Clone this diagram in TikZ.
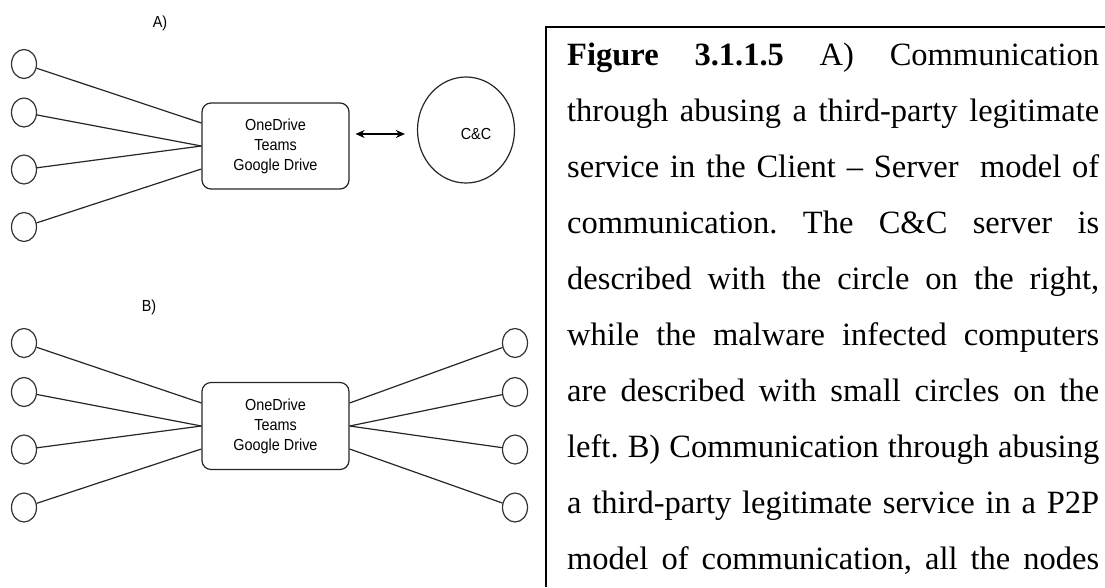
\documentclass[tikz,border=0pt]{standalone}
\usepackage{fontspec}
\setmainfont{Liberation Serif}
\newfontfamily\diagfont{Liberation Sans}[FakeStretch=0.9]
\usetikzlibrary{arrows.meta,shapes.geometric}
\begin{document}
\frenchspacing
\begin{tikzpicture}[x=1pt,y=-1pt,
  pc/.style={draw=black!80, ellipse, minimum width=25pt, minimum height=29pt, inner sep=0pt, line width=1.2pt},
  svc/.style={draw=black!85, rounded corners=9pt, minimum width=147pt, align=center, inner sep=0pt, line width=1.2pt, font=\diagfont\fontsize{16}{20}\selectfont},
  link/.style={draw=black!85, line width=1.2pt},
  biarrow/.style={line width=1.2pt, {Stealth[length=9pt,width=8pt]}-{Stealth[length=9pt,width=8pt]}},
  lbl/.style={font=\diagfont\fontsize{16}{18}\selectfont},
  capline/.style={anchor=base west, inner sep=0pt, font=\fontsize{32.5}{56}\selectfont},
  frame/.style={line width=1.3pt}
]
\useasboundingbox (0,0) rectangle (1105,587);

% ---------- A) ----------
\node[lbl] (labA) at (160,23) {A)};
\node[pc] (a1) at (24,64) {};
\node[pc] (a2) at (24,112.5) {};
\node[pc] (a3) at (24,169.5) {};
\node[pc] (a4) at (24,227) {};
\node[svc, minimum height=86pt] (boxA) at (275.5,146) {OneDrive\\Teams\\Google Drive};
\node[draw=black!85, ellipse, minimum width=97pt, minimum height=106pt, line width=1.2pt,
      label={[lbl, xshift=10pt, yshift=-4pt]center:C\&C}] (cc) at (466,130) {};
\draw[link] (a1) -- ([yshift=23pt]boxA.west);
\draw[link] (a2) -- (boxA.west);
\draw[link] (a3) -- (boxA.west);
\draw[link] (a4) -- ([yshift=-23pt]boxA.west);
\draw[biarrow] ([xshift=6pt,yshift=12pt]boxA.east) -- ([xshift=-12pt,yshift=-4pt]cc.west);

% ---------- B) ----------
\node[lbl] (labB) at (149,307) {B)};
\node[pc] (b1) at (24,343) {};
\node[pc] (b2) at (24,392) {};
\node[pc] (b3) at (24,449.5) {};
\node[pc] (b4) at (24,507.5) {};
\node[pc] (c1) at (515,343) {};
\node[pc] (c2) at (515,392) {};
\node[pc] (c3) at (515,449.5) {};
\node[pc] (c4) at (515,507.5) {};
\node[svc, minimum height=87pt] (boxB) at (275.5,426) {OneDrive\\Teams\\Google Drive};
\draw[link] (b1) -- ([yshift=23pt]boxB.west);
\draw[link] (b2) -- (boxB.west);
\draw[link] (b3) -- (boxB.west);
\draw[link] (b4) -- ([yshift=-23pt]boxB.west);
\draw[link] (c1) -- ([yshift=23pt]boxB.east);
\draw[link] (c2) -- (boxB.east);
\draw[link] (c3) -- (boxB.east);
\draw[link] (c4) -- ([yshift=-23pt]boxB.east);

% ---------- caption frame ----------
\coordinate (fb) at (546,587);
\coordinate (ft) at (546,27);
\coordinate (fr) at (1105,27);
\draw[frame] (fb) -- (ft) -- (fr);

\node[capline] (t1) at (567,65) {\makebox[532pt][s]{\textbf{Figure 3.1.1.5} A) Communication}};
\node[capline] (t2) at (567,121) {\makebox[532pt][s]{through abusing a third-party legitimate}};
\node[capline] (t3) at (567,177) {\makebox[532pt][s]{service in the Client -- Server~ model of}};
\node[capline] (t4) at (567,233) {\makebox[532pt][s]{communication. The C\&C server is}};
\node[capline] (t5) at (567,289) {\makebox[532pt][s]{described with the circle on the right,}};
\node[capline] (t6) at (567,345) {\makebox[532pt][s]{while the malware infected computers}};
\node[capline] (t7) at (567,401) {\makebox[532pt][s]{are described with small circles on the}};
\node[capline] (t8) at (567,457) {\makebox[532pt][s]{left. B) Communication through abusing}};
\node[capline] (t9) at (567,513) {\makebox[532pt][s]{a third-party legitimate service in a P2P}};
\node[capline] (t10) at (567,569) {\makebox[532pt][s]{model of communication, all the nodes}};
\end{tikzpicture}
\end{document}
